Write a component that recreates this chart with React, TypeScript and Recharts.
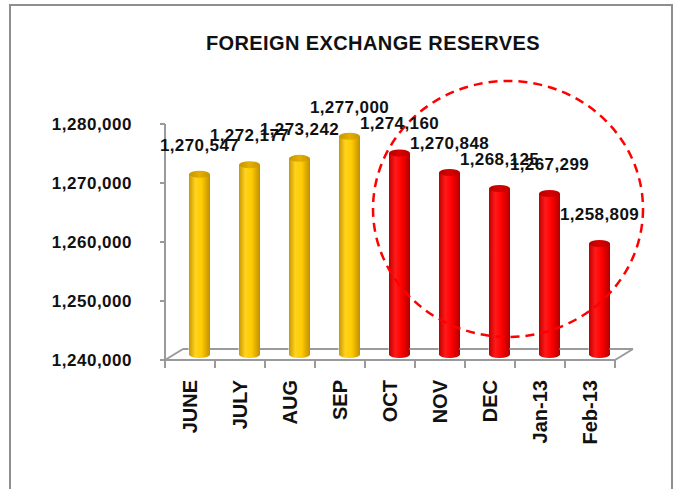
import { Bar, BarChart, Cell, LabelList, ReferenceDot, XAxis, YAxis } from "recharts"

const months = ["JUNE", "JULY", "AUG", "SEP", "OCT", "NOV", "DEC", "Jan-13", "Feb-13"]
const reserves = [1270547, 1272177, 1273242, 1277000, 1274160, 1270848, 1268125, 1267299, 1258809]
const yTicks = [1240000, 1250000, 1260000, 1270000, 1280000]

const data = months.map((month, i) => ({ month, value: reserves[i] }))

// the older months are gold, the highlighted ones red
const barFills = months.map((_, i) => (i < 4 ? "url(#gold)" : "url(#red)"))

const FONT = "Arial, 'Liberation Sans', sans-serif"
const AXIS = "#9a9a9a"
const BAR_W = 21
// 3d look: bars sit half way into the floor depth
const DEPTH_X = 18
const DEPTH_Y = -11
const DX = DEPTH_X / 2
const DY = DEPTH_Y / 2
const RY = 3.5

const fmt = (v: number) => v.toLocaleString("en-US")

const Cylinder = (props: any) => {
  const { x, y, width, height, fill } = props
  if (height == null || width == null) return null
  const left = x + DX
  const top = y + DY
  const bottom = y + height + DY
  const rx = width / 2
  const isRed = String(fill).includes("red")
  return (
    <g>
      <path
        d={`M${left},${top} L${left},${bottom} A${rx},${RY} 0 0 0 ${left + width},${bottom} L${left + width},${top} Z`}
        fill={fill}
      />
      <ellipse cx={left + rx} cy={top} rx={rx} ry={RY} fill={isRed ? "url(#redTop)" : "url(#goldTop)"} />
    </g>
  )
}

const ValueLabel = (props: any) => {
  const { x, y, width, value } = props
  if (value == null) return null
  return (
    <text
      x={x + width / 2 + DX}
      y={y + DY - RY - 20}
      textAnchor="middle"
      fontFamily={FONT}
      fontWeight="bold"
      fontSize={17}
      letterSpacing={0.4}
      fill="#111"
    >
      {fmt(value)}
    </text>
  )
}

const MonthTick = (props: any) => {
  const { x, y, payload, index, visibleTicksCount } = props
  const half = payload?.offset || 25
  const left = x - half
  const right = x + half
  const last = index === visibleTicksCount - 1
  const backY = y + DEPTH_Y
  // floor back edge, only in the gaps so the bars stay in front of it
  const barL = x + DX - BAR_W / 2
  const barR = x + DX + BAR_W / 2
  return (
    <g>
      <line x1={left} y1={y} x2={left} y2={y + 8} stroke={AXIS} strokeWidth={2} />
      {last && <line x1={right} y1={y} x2={right} y2={y + 8} stroke={AXIS} strokeWidth={2} />}
      {index === 0 && (
        <line x1={left} y1={y} x2={left + DEPTH_X} y2={backY} stroke={AXIS} strokeWidth={2} />
      )}
      {last && <line x1={right} y1={y} x2={right + DEPTH_X} y2={backY} stroke={AXIS} strokeWidth={2} />}
      <line x1={Math.max(left + DEPTH_X, left)} y1={backY} x2={barL} y2={backY} stroke={AXIS} strokeWidth={2} />
      <line x1={barR} y1={backY} x2={right + DEPTH_X} y2={backY} stroke={AXIS} strokeWidth={2} />
      <text
        transform={`rotate(-90 ${x} ${y + 20})`}
        x={x}
        y={y + 20}
        dy="0.36em"
        textAnchor="end"
        fontFamily={FONT}
        fontWeight="bold"
        fontSize={20}
        fill="#111"
      >
        {payload.value}
      </text>
    </g>
  )
}

const DashedRing = (props: any) => {
  const { cx, cy } = props
  if (cx == null || cy == null) return null
  return (
    <ellipse
      cx={cx + 18}
      cy={cy}
      rx={135}
      ry={128}
      fill="none"
      stroke="#ff0000"
      strokeWidth={2.5}
      strokeDasharray="9 6"
    />
  )
}

export default function App() {
  return (
    <div style={{ position: "fixed", left: 0, top: 0, width: 675, height: 489, background: "#fff", overflow: "hidden" }}>
      <svg width={0} height={0} style={{ position: "absolute" }}>
        <defs>
          <linearGradient id="gold" x1="0" y1="0" x2="1" y2="0">
            <stop offset="0%" stopColor="#c99700" />
            <stop offset="30%" stopColor="#ffd31f" />
            <stop offset="60%" stopColor="#ffcc00" />
            <stop offset="100%" stopColor="#c08e00" />
          </linearGradient>
          <linearGradient id="goldTop" x1="0" y1="0" x2="1" y2="0">
            <stop offset="0%" stopColor="#c69500" />
            <stop offset="50%" stopColor="#e3b000" />
            <stop offset="100%" stopColor="#c69500" />
          </linearGradient>
          <linearGradient id="red" x1="0" y1="0" x2="1" y2="0">
            <stop offset="0%" stopColor="#c00000" />
            <stop offset="30%" stopColor="#ff1a1a" />
            <stop offset="60%" stopColor="#ff0000" />
            <stop offset="100%" stopColor="#b00000" />
          </linearGradient>
          <linearGradient id="redTop" x1="0" y1="0" x2="1" y2="0">
            <stop offset="0%" stopColor="#b80000" />
            <stop offset="50%" stopColor="#d80000" />
            <stop offset="100%" stopColor="#b80000" />
          </linearGradient>
        </defs>
      </svg>
      <div
        style={{
          position: "absolute",
          left: 9,
          top: 4,
          width: 660,
          height: 520,
          border: "2px solid #8e8e8e",
        }}
      />
      <div
        style={{
          position: "absolute",
          left: 123,
          top: 33,
          width: 500,
          textAlign: "center",
          fontFamily: FONT,
          fontWeight: "bold",
          fontSize: 20,
          lineHeight: "20px",
          letterSpacing: 0.4,
          color: "#111",
        }}
      >
        FOREIGN EXCHANGE RESERVES
      </div>
      <div style={{ position: "absolute", left: 0, top: 0 }}>
        <BarChart
          width={675}
          height={489}
          data={data}
          margin={{ top: 124, right: 60, bottom: 29, left: 0 }}
          barSize={BAR_W}
        >
          <XAxis
            dataKey="month"
            height={100}
            interval={0}
            axisLine={{ stroke: AXIS, strokeWidth: 2 }}
            tickLine={false}
            tickSize={0}
            tickMargin={0}
            tick={<MonthTick />}
          />
          <YAxis
            width={165}
            domain={[1240000, 1280000]}
            ticks={yTicks}
            allowDataOverflow
            axisLine={{ stroke: AXIS, strokeWidth: 2 }}
            tickLine={{ stroke: AXIS, strokeWidth: 2 }}
            tickSize={5}
            tickMargin={28}
            tickFormatter={fmt}
            tick={{ fontFamily: FONT, fontWeight: "bold", fontSize: 17, fill: "#111", letterSpacing: 0.5 }}
          />
          <Bar dataKey="value" shape={<Cylinder />} isAnimationActive={false}>
            {data.map((entry, i) => (
              <Cell key={entry.month} fill={barFills[i]} />
            ))}
            <LabelList dataKey="value" content={<ValueLabel />} />
          </Bar>
          <ReferenceDot x="DEC" y={1265600} r={0} shape={<DashedRing />} ifOverflow="visible" />
        </BarChart>
      </div>
    </div>
  )
}
